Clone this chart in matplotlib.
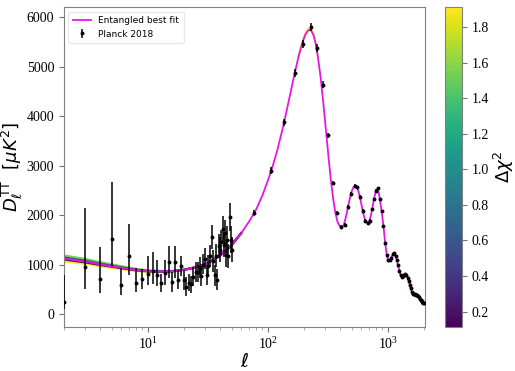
import matplotlib
matplotlib.use("Agg")
import matplotlib.pyplot as plt
import numpy as np

plt.rcParams["font.family"] = ["Liberation Serif", "DejaVu Serif"]
plt.rcParams["mathtext.fontset"] = "dejavusans"

# Planck 2018 TT, unbinned low-ell part
ell_low = list(range(2, 51))
D_low = [250, 960, 719, 1521, 585, 1172, 639, 719, 826, 886,
         786, 625, 840, 1053, 652, 1053, 705, 972, 692, 559,
         639, 605, 759, 852, 852, 939, 772, 1006, 1120, 786,
         972, 1172, 1561, 1072, 786, 1186, 705, 1373, 1307, 1453,
         1721, 1407, 1641, 1206, 1507, 1172, 1962, 1507, 1300]
err_low_dn = [130, 441, 294, 549, 200, 386, 188, 214, 241, 281,
              215, 174, 255, 314, 190, 314, 200, 200, 190, 180,
              170, 170, 180, 190, 190, 200, 190, 200, 210, 200,
              210, 220, 240, 220, 210, 230, 210, 240, 240, 250,
              260, 250, 260, 240, 260, 240, 270, 260, 250]
err_low_up = [550, 1195, 642, 1142, 355, 656, 301, 201, 360, 367,
              306, 200, 266, 320, 210, 320, 200, 210, 200, 190,
              180, 180, 190, 200, 200, 210, 200, 210, 220, 210,
              220, 230, 250, 230, 220, 240, 220, 250, 250, 260,
              270, 260, 270, 250, 270, 250, 280, 270, 260]

# Planck 2018 TT, binned high-ell part
ell_bin = [77, 107, 137, 167, 197, 227, 257, 287, 317, 347,
           377, 407, 437, 467, 497, 527, 557, 587, 617, 647,
           677, 707, 737, 767, 797, 827, 857, 887, 917, 947,
           977, 1007, 1037, 1067, 1097, 1127, 1157, 1187, 1217, 1247,
           1277, 1307, 1337, 1367, 1397, 1427, 1457, 1487, 1517, 1547,
           1577, 1607, 1637, 1667, 1697, 1727, 1757, 1787, 1817, 1847,
           1877, 1907, 1937, 1967, 1997]
D_bin = [2044, 2900, 3872, 4874, 5455, 5796, 5375, 4634, 3612, 2650,
         2044, 1761, 1801, 2175, 2429, 2589, 2563, 2375, 2094, 1894,
         1842, 1894, 2122, 2323, 2495, 2543, 2320, 2080, 1780, 1450,
         1190, 1090, 1090, 1130, 1210, 1240, 1180, 1090, 990, 880,
         790, 760, 775, 800, 812, 800, 745, 670, 600, 525,
         460, 422, 410, 405, 400, 395, 383, 365, 345, 318,
         292, 270, 252, 238, 225]
err_bin = [60, 65, 70, 75, 80, 80, 75, 65, 55, 45,
           40, 35, 35, 35, 35, 35, 35, 30, 30, 28,
           28, 28, 28, 28, 28, 28, 26, 24, 22, 20,
           18, 18, 18, 18, 18, 18, 17, 16, 15, 15,
           14, 14, 14, 14, 14, 14, 13, 13, 12, 12,
           12, 12, 12, 12, 12, 12, 12, 12, 12, 12,
           12, 12, 12, 12, 12]

# best-fit model curve
ell_fit = [2, 3, 4, 5, 6, 8, 10, 13, 16, 20, 25, 30, 35, 40, 50, 60, 70, 80, 90, 100,
           110, 120, 135, 150, 165, 180, 195, 205, 215, 222, 230, 240, 250, 260, 275,
           290, 305, 320, 335, 350, 365, 380, 395, 410, 425, 440, 460, 480, 500, 520,
           540, 560, 580, 600, 620, 640, 660, 680, 700, 720, 740, 760, 780, 800, 820,
           840, 860, 880, 900, 920, 940, 960, 980, 1000, 1030, 1060, 1090, 1120, 1150,
           1180, 1210, 1240, 1270, 1300, 1330, 1360, 1390, 1420, 1450, 1480, 1510, 1540,
           1570, 1600, 1640, 1680, 1720, 1760, 1800, 1840, 1880, 1920, 1960, 2000]
D_fit = [1126, 1066, 1010, 972, 940, 895, 872, 866, 872, 900, 950, 1006, 1090, 1186, 1400,
         1641, 1880, 2120, 2400, 2700, 3000, 3320, 3820, 4330, 4800, 5200, 5500, 5640,
         5720, 5740, 5720, 5630, 5460, 5220, 4780, 4250, 3700, 3170, 2700, 2330, 2050,
         1870, 1790, 1750, 1790, 1900, 2110, 2330, 2490, 2580, 2590, 2530, 2400, 2230,
         2060, 1930, 1860, 1845, 1890, 1990, 2130, 2290, 2420, 2500, 2540, 2440, 2300,
         2130, 1950, 1760, 1530, 1340, 1190, 1100, 1080, 1120, 1200, 1245, 1210, 1110,
         1000, 895, 800, 760, 770, 795, 812, 810, 760, 690, 615, 540, 470, 425, 408, 405,
         398, 382, 358, 325, 291, 262, 242, 228]

# ensemble of fits coloured by delta chi^2 (only differ visibly at low ell / peak)
ens_ell = [2, 3, 4, 5, 6, 8, 10, 13, 16, 20, 25, 30, 40, 50, 60]
ens_chi2 = [1.9, 1.55, 0.6, 0.15]
ens_D = [
    [1070, 1020, 972, 940, 912, 875, 858, 858, 868, 898, 948, 1004, 1184, 1398, 1640],
    [1190, 1120, 1055, 1010, 975, 920, 890, 875, 878, 903, 952, 1008, 1188, 1402, 1642],
    [1150, 1085, 1025, 985, 950, 902, 877, 868, 873, 901, 951, 1007, 1187, 1401, 1641],
    [1110, 1052, 1000, 965, 934, 891, 870, 865, 871, 900, 950, 1006, 1186, 1400, 1641],
]
peak_ell = [180, 195, 205, 215, 222, 230, 240, 250, 260]
peak_D = [5215, 5520, 5665, 5750, 5775, 5755, 5660, 5480, 5230]
chi2_min, chi2_max = 0.114, 1.913

fig = plt.figure(figsize=(5.15, 3.71), dpi=100)
ax = fig.add_axes([0.124, 0.119, 0.701, 0.862])
cax = fig.add_axes([0.864, 0.119, 0.033, 0.862])

cmap = plt.get_cmap("viridis")
norm = matplotlib.colors.Normalize(vmin=chi2_min, vmax=chi2_max)
for c2, dd in zip(ens_chi2, ens_D):
    ax.plot(ens_ell, dd, color=cmap(norm(c2)), lw=1.6, zorder=1)
ax.plot(peak_ell, peak_D, color=cmap(norm(1.9)), lw=1.4, zorder=1)

ax.plot(ell_fit, D_fit, color="#e617e6", lw=1.3, zorder=2, label="Entangled best fit")

ax.errorbar(ell_low, D_low, yerr=[err_low_dn, err_low_up], fmt="o", color="black",
            ms=1.8, elinewidth=1.1, capsize=0, zorder=3, label="Planck 2018")
ax.errorbar(ell_bin, D_bin, yerr=err_bin, fmt="o", color="black",
            ms=1.8, elinewidth=1.1, capsize=0, zorder=3)

ax.set_xscale("log")
ax.set_xlim(2, 2030)
ax.set_ylim(-250, 6200)
ax.set_xlabel(r"$\ell$", fontsize=14, labelpad=0)
ax.set_ylabel(r"$D_\ell^{\rm TT}\ \ [\mu K^2]$", fontsize=13, labelpad=1)
ax.tick_params(labelsize=10, colors="0.45", labelcolor="black")
ax.tick_params(which="minor", colors="0.6")
for sp in ax.spines.values():
    sp.set_color("0.5")

ax.legend(loc="upper left", prop={"family": "DejaVu Sans", "size": 6.5},
          framealpha=0.9, edgecolor="0.9", borderpad=0.5)

sm = matplotlib.cm.ScalarMappable(norm=norm, cmap=cmap)
cb = fig.colorbar(sm, cax=cax)
cb.set_ticks([0.2, 0.4, 0.6, 0.8, 1.0, 1.2, 1.4, 1.6, 1.8])
cb.ax.tick_params(labelsize=10, colors="0.45", labelcolor="black")
cb.outline.set_edgecolor("0.5")
cb.set_label(r"$\Delta\chi^2$", fontsize=13, labelpad=2)

fig.savefig("out.png", dpi=100)
